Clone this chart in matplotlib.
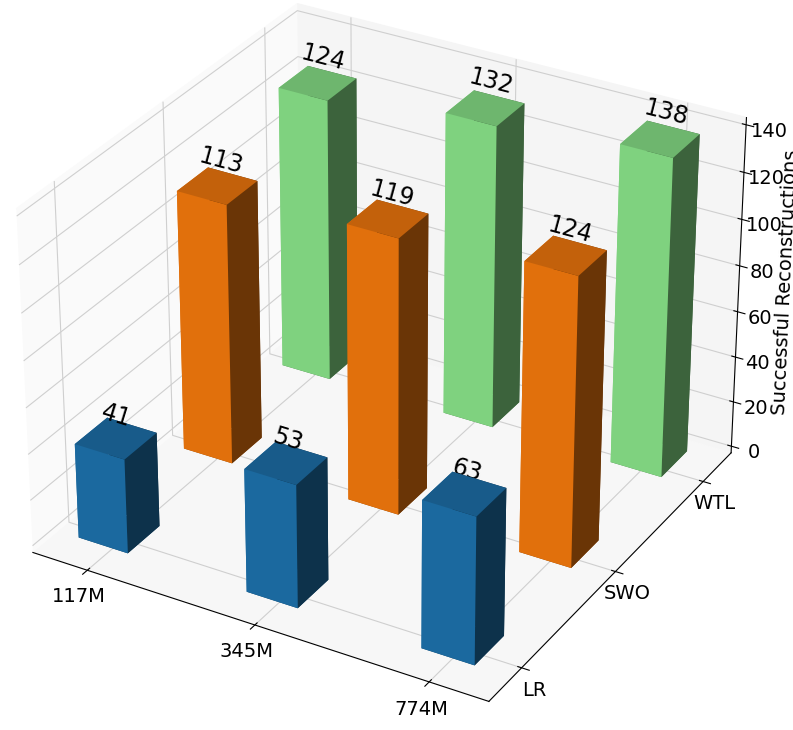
import matplotlib.pyplot as plt

sizes = ['117M', '345M', '774M']
methods = ['LR', 'SWO', 'WTL']
lr = [41, 53, 63]
swo = [113, 119, 124]
wtl = [124, 132, 138]
colors = ['tab:blue', 'tab:orange', 'lightgreen']

plt.rcParams['grid.color'] = '#cfcfcf'

fig = plt.figure(figsize=(7.93, 7.30), dpi=100)
ax = fig.add_axes([-0.08, -0.031, 1.112, 1.112], projection='3d')
ax.view_init(elev=30, azim=-60)

dx = 0.30
dy = 0.30
for m, (vals, c) in enumerate(zip([lr, swo, wtl], colors)):
    for s, v in enumerate(vals):
        x = s * 1.012 - 0.022
        y = m * 1.01
        ax.bar3d(x - dx / 2, y - dy / 2, 0, dx, dy, v, color=c, shade=True)
        ax.text(x + 0.01, m * 1.03, v + 10, str(v), 'x', fontsize=17,
                ha='center', va='center', zorder=10)

ax.set_xticks(range(3))
ax.set_xticklabels(sizes, fontsize=14)
ax.set_yticks(range(3))
ax.set_yticklabels(methods, fontsize=14)
ax.set_zticks(range(0, 141, 20))
ax.tick_params(axis='x', pad=1)
ax.tick_params(axis='y', pad=0)
ax.tick_params(axis='z', labelsize=14, pad=2)
ax.set_zlabel('Successful Reconstructions', fontsize=14, labelpad=0)
ax.set_xlim(-1 / 3, 7 / 3)
ax.set_ylim(-1 / 3, 7 / 3)
ax.set_zlim(-3, 143)

ax.xaxis.set_pane_color((0.98, 0.98, 0.98, 1))
ax.yaxis.set_pane_color((0.96, 0.96, 0.96, 1))
ax.zaxis.set_pane_color((0.97, 0.97, 0.97, 1))

plt.savefig('out.png', dpi=100)
